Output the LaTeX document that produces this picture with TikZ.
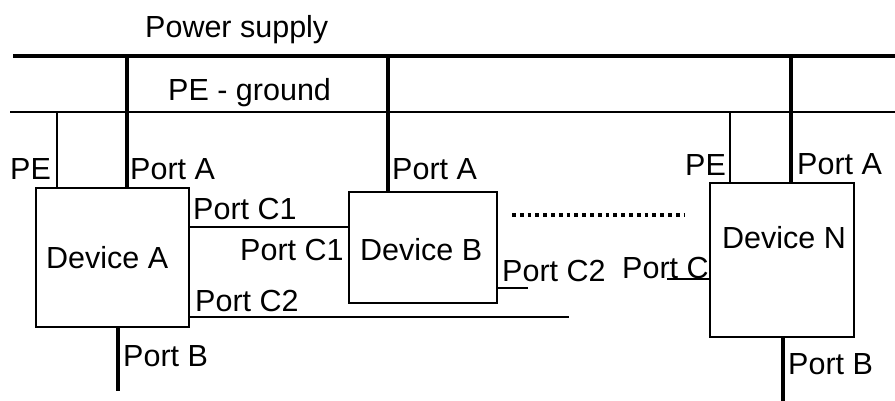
\documentclass[tikz,border=0pt]{standalone}
\usepackage{fontspec}
\setmainfont{Liberation Sans}
\tikzset{
  bus/.style={line width=4pt},
  thin/.style={line width=1.5pt},
  thickport/.style={line width=4pt},
  devbox/.style={draw, line width=1.5pt, inner sep=0pt},
  lbl/.style={anchor=base west, inner sep=0pt, font=\fontsize{30.5}{31}\selectfont},
  dots/.style={line width=4pt, dash pattern=on 3.8pt off 4pt}
}
\begin{document}
\begin{tikzpicture}[x=1pt,y=-1pt]
\useasboundingbox (0,0) rectangle (895,401);
% buses
\coordinate (psL) at (13,56); \coordinate (psR) at (895,56);
\coordinate (peL) at (10,112); \coordinate (peR) at (895,112);
\draw[bus] (psL) -- (psR);
\draw[thin] (peL) -- (peR);
\node[lbl] (tps) at (145,38) {Power supply};
\node[lbl] (tpe) at (168,101) {PE - ground};
% boxes
\node[devbox, minimum width=153pt, minimum height=139pt] (A) at (112.5,257.5) {};
\node[devbox, minimum width=148pt, minimum height=111pt] (B) at (423,247.5) {};
\node[devbox, minimum width=144pt, minimum height=154pt] (N) at (782,260) {};
\node[lbl] (tA) at (46,269) {Device A};
\node[lbl] (tB) at (360,260) {Device B};
\node[lbl] (tN) at (722,248) {Device N};
% device A connections
\coordinate (aPAtop) at (127,56); \coordinate (aPAbot) at (127,188);
\draw[thickport] (aPAtop) -- (aPAbot);
\coordinate (aPEtop) at (57,112); \coordinate (aPEbot) at (57,188);
\draw[thin] (aPEtop) -- (aPEbot);
\coordinate (aPBtop) at (118,327); \coordinate (aPBbot) at (118,391);
\draw[thickport] (aPBtop) -- (aPBbot);
\node[lbl] at (10,180) {PE};
\node[lbl] at (130,180) {Port A};
\node[lbl] at (123,366) {Port B};
% device B connections
\coordinate (bPAtop) at (388,56); \coordinate (bPAbot) at (388,192);
\draw[thickport] (bPAtop) -- (bPAbot);
\node[lbl] at (392,180) {Port A};
% C1 link
\coordinate (c1a) at (189,227); \coordinate (c1b) at (349,227);
\draw[thin] (c1a) -- (c1b);
\node[lbl] at (193,219) {Port C1};
\node[lbl] at (240,260) {Port C1};
% C2 link
\coordinate (c2a) at (189,317); \coordinate (c2b) at (569,317);
\draw[thin] (c2a) -- (c2b);
\node[lbl] at (195,311) {Port C2};
% B port C2 stub
\coordinate (bc2a) at (497,288); \coordinate (bc2b) at (528,288);
\draw[thin] (bc2a) -- (bc2b);
\node[lbl] at (502,281) {Port C2};
% dotted
\coordinate (d1) at (512,215.5); \coordinate (d2) at (684,215.5);
\draw[dots] (d1) -- (d2);
% device N
\coordinate (nPEtop) at (730,112); \coordinate (nPEbot) at (730,182);
\draw[thin] (nPEtop) -- (nPEbot);
\coordinate (nPAtop) at (791,56); \coordinate (nPAbot) at (791,183);
\draw[thickport] (nPAtop) -- (nPAbot);
\coordinate (nPBtop) at (783,337); \coordinate (nPBbot) at (783,401);
\draw[thickport] (nPBtop) -- (nPBbot);
\coordinate (ncA) at (667,279); \coordinate (ncB) at (710,279);
\draw[thin] (ncA) -- (ncB);
\node[lbl] at (685,176) {PE};
\node[lbl] at (797,175) {Port A};
\node[lbl] at (622,278) {Port C};
\node[lbl] at (788,374) {Port B};
\end{tikzpicture}
\end{document}
